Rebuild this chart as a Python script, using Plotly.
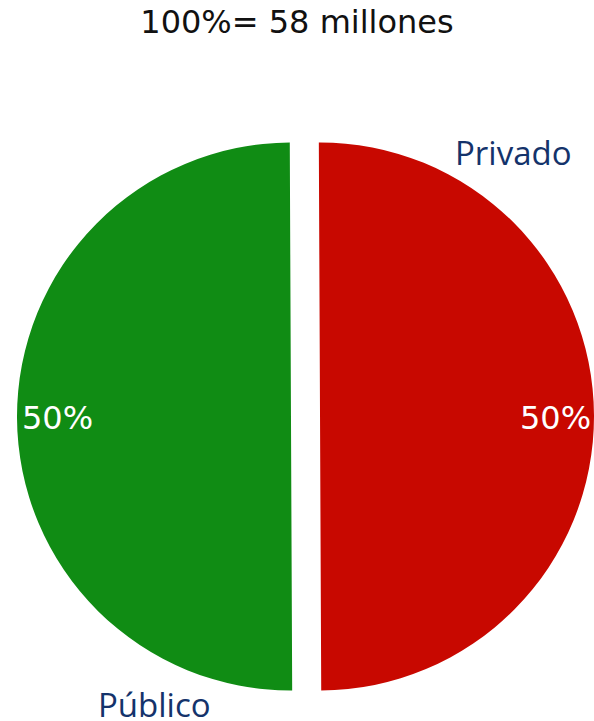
import plotly.graph_objects as go

labels = ["Privado", "Público"]
values = [50, 50]
colors = ["#C80800", "#108C14"]
title_text = "100%= 58 millones"

total = sum(values)
pct_text = [f"{round(v / total * 100)}%" for v in values]

W, H = 594, 721
ml, mr, mt, mb = 17, 0, 128, 16
pw, ph = W - ml - mr, H - mt - mb

def px(x):
    return (x - ml) / pw

def py(y):
    return (H - mb - y) / ph

fig = go.Figure(
    go.Pie(
        labels=labels,
        values=values,
        marker=dict(colors=colors, line=dict(width=0)),
        sort=False,
        direction="clockwise",
        rotation=-0.25,
        pull=[0.053, 0.053],
        textinfo="none",
        hoverinfo="label+percent",
        showlegend=False,
    )
)

annotations = [
    # percentages
    dict(x=px(555.5), y=py(418), text=pct_text[0], showarrow=False,
         font=dict(family="DejaVu Sans", size=32, color="white"),
         xanchor="center", yanchor="middle"),
    dict(x=px(57), y=py(418), text=pct_text[1], showarrow=False,
         font=dict(family="DejaVu Sans", size=32, color="white"),
         xanchor="center", yanchor="middle"),
    # labels
    dict(x=px(513), y=py(152), text=labels[0], showarrow=False,
         font=dict(family="Open Sans", size=33, color="#14336B"),
         xanchor="center", yanchor="middle"),
    dict(x=px(154), y=py(704), text=labels[1], showarrow=False,
         font=dict(family="Open Sans", size=33, color="#14336B"),
         xanchor="center", yanchor="middle"),
]

fig.update_layout(
    width=W,
    height=H,
    margin=dict(l=ml, r=mr, t=mt, b=mb),
    paper_bgcolor="white",
    plot_bgcolor="white",
    title=dict(text=title_text, x=0.5, xanchor="center",
               y=1 - 22 / H, yanchor="middle",
               font=dict(family="DejaVu Sans", size=32, color="#111111")),
    annotations=annotations,
)

fig.write_html(
    "out.html",
    config={"displayModeBar": False},
    post_script="document.body.style.margin='0';document.body.style.overflow='hidden';",
)
